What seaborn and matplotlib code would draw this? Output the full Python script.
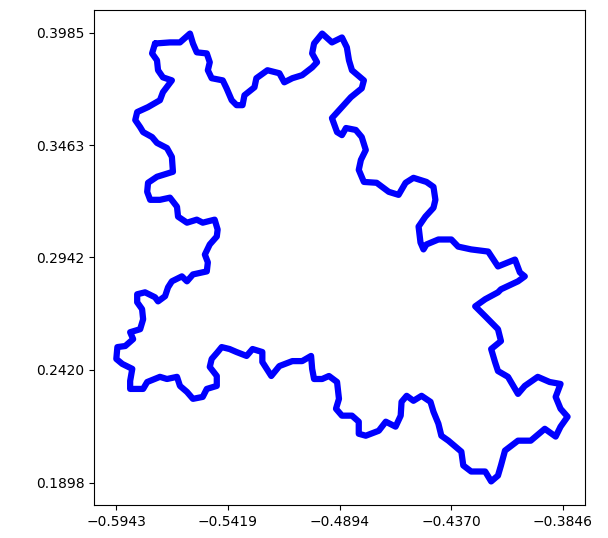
import matplotlib
matplotlib.use("Agg")
import matplotlib.pyplot as plt
import seaborn as sns
import pandas as pd

# Outline of the fractal boundary (clockwise)
x_vals = [
    -0.5761, -0.5691, -0.5644, -0.5597, -0.5583, -0.5565, -0.5518, -0.5504, -0.5513, -0.5495,
    -0.5443, -0.5425, -0.5401, -0.5378, -0.5350, -0.5341, -0.5294, -0.5285, -0.5233, -0.5177,
    -0.5154, -0.5116, -0.5070, -0.5023, -0.5000, -0.5023, -0.5014, -0.4976, -0.4930, -0.4883,
    -0.4860, -0.4850, -0.4836, -0.4780, -0.4790, -0.4841, -0.4883, -0.4930, -0.4906, -0.4883,
    -0.4864, -0.4818, -0.4790, -0.4771, -0.4794, -0.4804, -0.4780, -0.4720, -0.4663, -0.4617,
    -0.4584, -0.4547, -0.4486, -0.4453, -0.4444, -0.4453, -0.4491, -0.4523, -0.4514, -0.4500,
    -0.4486, -0.4430, -0.4369, -0.4337, -0.4276, -0.4196, -0.4150, -0.4070, -0.4047, -0.4024,
    -0.4056, -0.4136, -0.4150, -0.4210, -0.4257, -0.4210, -0.4150, -0.4136, -0.4182, -0.4164,
    -0.4150, -0.4103, -0.4070, -0.4056, -0.4024, -0.3963, -0.3907, -0.3856, -0.3879, -0.3856,
    -0.3823, -0.3856, -0.3879, -0.3930, -0.3996, -0.4056, -0.4117, -0.4136, -0.4150, -0.4182,
    -0.4210, -0.4276, -0.4313, -0.4322, -0.4383, -0.4416, -0.4430, -0.4453, -0.4467, -0.4509,
    -0.4547, -0.4579, -0.4603, -0.4607, -0.4631, -0.4677, -0.4710, -0.4771, -0.4804, -0.4804,
    -0.4836, -0.4883, -0.4911, -0.4897, -0.4906, -0.4944, -0.4976, -0.5014, -0.5023, -0.5028,
    -0.5070, -0.5116, -0.5177, -0.5215, -0.5257, -0.5257, -0.5303, -0.5331, -0.5378, -0.5411,
    -0.5448, -0.5467, -0.5495, -0.5504, -0.5471, -0.5471, -0.5518, -0.5537, -0.5583, -0.5611,
    -0.5644, -0.5658, -0.5705, -0.5738, -0.5798, -0.5817, -0.5878, -0.5878, -0.5868, -0.5915,
    -0.5943, -0.5938, -0.5901, -0.5864, -0.5878, -0.5831, -0.5817, -0.5822, -0.5845, -0.5845,
    -0.5808, -0.5761, -0.5747, -0.5714, -0.5700, -0.5682, -0.5635, -0.5611, -0.5583, -0.5518,
    -0.5513, -0.5527, -0.5504, -0.5471, -0.5467, -0.5481, -0.5537, -0.5565, -0.5611, -0.5653,
    -0.5658, -0.5691, -0.5738, -0.5784, -0.5798, -0.5794, -0.5752, -0.5677, -0.5682, -0.5705,
    -0.5752, -0.5775, -0.5817, -0.5831, -0.5854, -0.5845, -0.5794, -0.5738, -0.5724, -0.5682,
    -0.5724, -0.5747, -0.5752, -0.5775, -0.5761,
]
y_vals = [
    0.3934, 0.3939, 0.3939, 0.3980, 0.3934, 0.3893, 0.3888, 0.3847, 0.3810, 0.3773,
    0.3763, 0.3726, 0.3671, 0.3648, 0.3648, 0.3694, 0.3731, 0.3773, 0.3810, 0.3796,
    0.3754, 0.3773, 0.3787, 0.3823, 0.3847, 0.3888, 0.3934, 0.3980, 0.3939, 0.3962,
    0.3916, 0.3856, 0.3810, 0.3763, 0.3726, 0.3685, 0.3639, 0.3588, 0.3523, 0.3509,
    0.3542, 0.3533, 0.3500, 0.3440, 0.3394, 0.3348, 0.3292, 0.3288, 0.3246, 0.3232,
    0.3288, 0.3311, 0.3292, 0.3269, 0.3209, 0.3172, 0.3131, 0.3085, 0.3011, 0.2979,
    0.3002, 0.3025, 0.3025, 0.2992, 0.2979, 0.2969, 0.2900, 0.2932, 0.2872, 0.2854,
    0.2831, 0.2794, 0.2780, 0.2748, 0.2715, 0.2669, 0.2609, 0.2554, 0.2517, 0.2457,
    0.2415, 0.2388, 0.2332, 0.2309, 0.2346, 0.2388, 0.2364, 0.2355, 0.2295, 0.2240,
    0.2203, 0.2157, 0.2111, 0.2147, 0.2092, 0.2092, 0.2046, 0.1977, 0.1930, 0.1903,
    0.1949, 0.1949, 0.1977, 0.2041, 0.2092, 0.2115, 0.2171, 0.2226, 0.2272, 0.2300,
    0.2277, 0.2300, 0.2272, 0.2208, 0.2157, 0.2180, 0.2138, 0.2115, 0.2124, 0.2180,
    0.2208, 0.2208, 0.2240, 0.2286, 0.2364, 0.2392, 0.2378, 0.2378, 0.2425, 0.2485,
    0.2461, 0.2461, 0.2438, 0.2392, 0.2457, 0.2503, 0.2517, 0.2485, 0.2503, 0.2517,
    0.2526, 0.2503, 0.2471, 0.2434, 0.2392, 0.2346, 0.2332, 0.2295, 0.2286, 0.2318,
    0.2346, 0.2388, 0.2378, 0.2388, 0.2364, 0.2332, 0.2332, 0.2369, 0.2425, 0.2448,
    0.2471, 0.2526, 0.2531, 0.2563, 0.2595, 0.2609, 0.2655, 0.2702, 0.2734, 0.2771,
    0.2780, 0.2757, 0.2738, 0.2762, 0.2803, 0.2831, 0.2854, 0.2831, 0.2863, 0.2877,
    0.2919, 0.2955, 0.3002, 0.3039, 0.3071, 0.3117, 0.3103, 0.3117, 0.3103, 0.3131,
    0.3177, 0.3219, 0.3209, 0.3209, 0.3246, 0.3288, 0.3316, 0.3339, 0.3408, 0.3449,
    0.3473, 0.3500, 0.3523, 0.3546, 0.3579, 0.3616, 0.3639, 0.3671, 0.3708, 0.3763,
    0.3777, 0.3810, 0.3856, 0.3888, 0.3934,
]

x_ticks = [-0.5943, -0.5419, -0.4894, -0.4370, -0.3846]
y_ticks = [0.1898, 0.2420, 0.2942, 0.3463, 0.3985]

df = pd.DataFrame({"x": x_vals, "y": y_vals, "order": range(len(x_vals))})

sns.set_theme(style="white")
plt.rcParams['font.family'] = ['DejaVu Sans']

fig = plt.figure(figsize=(6.08, 5.38), dpi=100)
ax = fig.add_axes([94 / 608, 33 / 538, 491 / 608, 495 / 538])

sns.lineplot(data=df, x="x", y="y", sort=False, estimator=None, color="blue",
             linewidth=4.5, ax=ax, solid_joinstyle="round")

xr = x_ticks[-1] - x_ticks[0]
yr = y_ticks[-1] - y_ticks[0]
ax.set_xlim(x_ticks[0] - 0.05 * xr, x_ticks[-1] + 0.05 * xr)
ax.set_ylim(y_ticks[0] - 0.05 * yr, y_ticks[-1] + 0.05 * yr)
ax.set_xticks(x_ticks)
ax.set_xticklabels([f"{v:.4f}".replace("-", "\u2212") for v in x_ticks])
ax.set_yticks(y_ticks)
ax.set_yticklabels([f"{v:.4f}" for v in y_ticks])
ax.set_xlabel("")
ax.set_ylabel("")
ax.tick_params(axis="both", which="major", length=3.5, width=0.8, labelsize=10,
               direction="out", bottom=True, left=True, color="black", labelcolor="black")
for s in ax.spines.values():
    s.set_visible(True)
    s.set_color("black")
    s.set_linewidth(0.8)

fig.savefig("out.png", dpi=100, facecolor="white")
